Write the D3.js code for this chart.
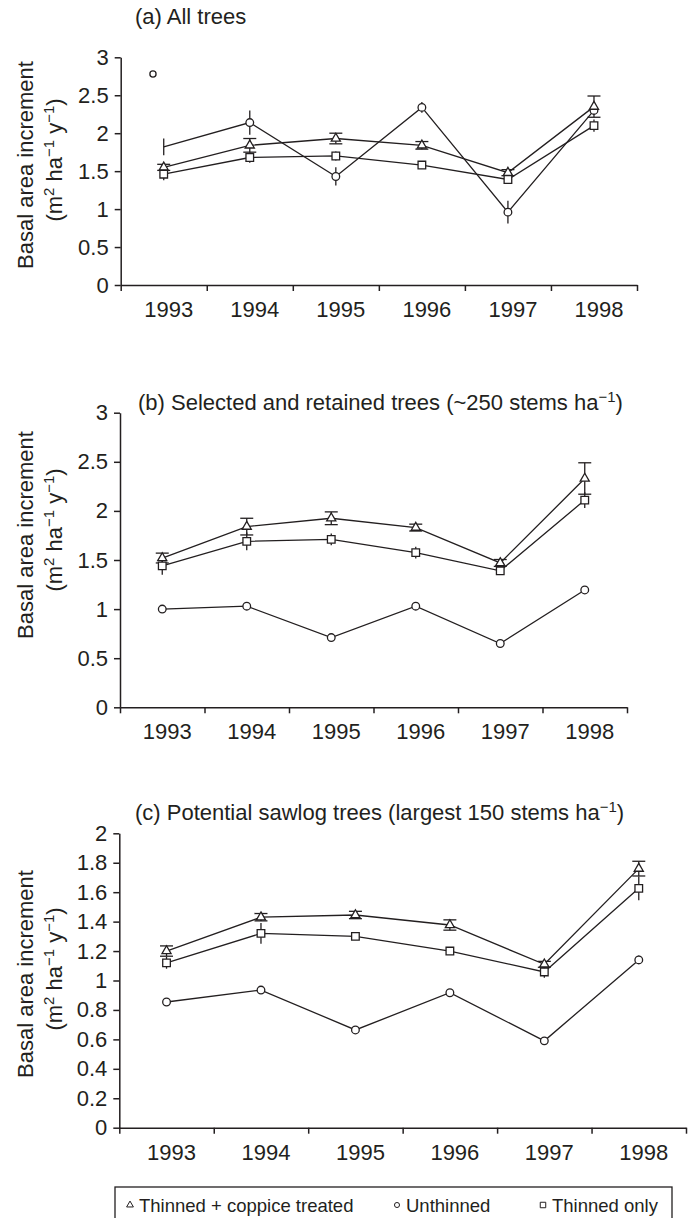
<!DOCTYPE html>
<html lang="en">
<head>
  <meta charset="UTF-8">
  <title>Basal area increment</title>
  <script src="https://d3js.org/d3.v7.min.js"></script>
  <style>
    body { margin: 0; background: #fff; }
    svg { display: block; font-family: "Liberation Sans", Arial, Helvetica, sans-serif; }
  </style>
</head>
<body>
<div id="chart"></div>
<script>
  const years = ["1993", "1994", "1995", "1996", "1997", "1998"];
  const seriesNames = ["Thinned + coppice treated", "Unthinned", "Thinned only"];

  // (a) all trees
  const coppiceA = [1.55, 1.84, 1.93, 1.84, 1.48, 2.35];
  const coppiceErrA = [0.04, 0.09, 0.07, 0.05, 0.04, 0.14];
  const unthinnedA = [1.82, 2.14, 1.43, 2.34, 0.96, 2.30];
  const unthinnedErrA = [0.11, 0.16, 0.12, 0.07, 0.15, 0.05];
  const thinnedA = [1.46, 1.68, 1.70, 1.58, 1.39, 2.10];
  const thinnedErrA = [0.08, 0.07, 0.06, 0.05, 0.04, 0.08];
  // in the original the 1993 unthinned marker floats away from its line
  const unthinnedNoMarkerA = ["1993"];
  const strayA = [{ year: "1993", value: 2.78 }];

  // (b) selected and retained trees
  const coppiceB = [1.52, 1.84, 1.925, 1.83, 1.47, 2.33];
  const coppiceErrB = [0.05, 0.085, 0.065, 0.035, 0.035, 0.16];
  const unthinnedB = [1.00, 1.03, 0.71, 1.03, 0.65, 1.195];
  const unthinnedErrB = [0.03, 0.02, 0.02, 0.02, 0.03, 0.02];
  const thinnedB = [1.44, 1.69, 1.71, 1.575, 1.39, 2.11];
  const thinnedErrB = [0.09, 0.09, 0.06, 0.06, 0.03, 0.08];

  // (c) potential sawlog trees
  const coppiceC = [1.20, 1.43, 1.445, 1.377, 1.11, 1.76];
  const coppiceErrC = [0.035, 0.025, 0.025, 0.035, 0.02, 0.05];
  const unthinnedC = [0.854, 0.935, 0.664, 0.917, 0.59, 1.14];
  const unthinnedErrC = [0.01, 0.01, 0.02, 0.02, 0.02, 0.03];
  const thinnedC = [1.12, 1.32, 1.30, 1.20, 1.058, 1.626];
  const thinnedErrC = [0.04, 0.07, 0.01, 0.02, 0.04, 0.08];

  const yTicks3 = [0, 0.5, 1, 1.5, 2, 2.5, 3];
  const yTicks2 = [0, 0.2, 0.4, 0.6, 0.8, 1, 1.2, 1.4, 1.6, 1.8, 2];

  const ink = "#231f20";

  const panels = [
    {
      title: [{ t: "(a) All trees" }],
      titleX: 135, titleY: 24,
      left: 120.7, right: 637, top: 57.3, bottom: 285,
      yMax: 3, yTicks: yTicks3, labelCenter: 165,
      series: [
        { values: unthinnedA, errs: unthinnedErrA, shape: "circle", noMarker: unthinnedNoMarkerA },
        { values: coppiceA, errs: coppiceErrA, shape: "triangle", caps: true },
        { values: thinnedA, errs: thinnedErrA, shape: "square" }
      ],
      stray: strayA
    },
    {
      title: [{ t: "(b) Selected and retained trees (~250 stems ha" }, { t: "−1", sup: true }, { t: ")" }],
      titleX: 138, titleY: 410,
      left: 120, right: 627, top: 412.7, bottom: 707.3,
      yMax: 3, yTicks: yTicks3, labelCenter: 535,
      series: [
        { values: unthinnedB, errs: unthinnedErrB, shape: "circle" },
        { values: coppiceB, errs: coppiceErrB, shape: "triangle", caps: true },
        { values: thinnedB, errs: thinnedErrB, shape: "square" }
      ]
    },
    {
      title: [{ t: "(c) Potential sawlog trees (largest 150 stems ha" }, { t: "−1", sup: true }, { t: ")" }],
      titleX: 135, titleY: 820,
      left: 119.3, right: 686, top: 833.3, bottom: 1127.7,
      yMax: 2, yTicks: yTicks2, labelCenter: 974,
      series: [
        { values: unthinnedC, errs: unthinnedErrC, shape: "circle" },
        { values: coppiceC, errs: coppiceErrC, shape: "triangle", caps: true },
        { values: thinnedC, errs: thinnedErrC, shape: "square" }
      ]
    }
  ];

  const symbolSize = { circle: 46, triangle: 36, square: 58 };
  const symbolType = { circle: d3.symbolCircle, triangle: d3.symbolTriangle, square: d3.symbolSquare };

  const svg = d3.select("#chart").append("svg")
    .attr("width", 698)
    .attr("height", 1218);

  // text with superscript parts
  function richText(sel, parts, size) {
    let raised = false;
    parts.forEach(p => {
      const ts = sel.append("tspan").text(p.t);
      if (p.sup) {
        ts.attr("font-size", size * 0.68).attr("dy", -size * 0.36);
        raised = true;
      } else if (raised) {
        ts.attr("dy", size * 0.36);
        raised = false;
      }
    });
  }

  function drawPanel(p) {
    const g = svg.append("g");
    const x = d3.scaleBand().domain(years).range([p.left, p.right]);
    const xEdge = d3.scaleLinear().domain([0, years.length]).range([p.left, p.right]);
    const y = d3.scaleLinear().domain([0, p.yMax]).range([p.bottom, p.top]);
    const cx = yr => x(yr) + x.bandwidth() / 2;

    // y axis
    g.append("g")
      .attr("transform", `translate(${p.left},0)`)
      .style("color", ink)
      .call(d3.axisLeft(y).tickValues(p.yTicks).tickFormat(d => d).tickSize(6).tickSizeOuter(0).tickPadding(6))
      .call(a => a.selectAll("text").attr("font-size", 22).attr("font-family", null))
      .call(a => a.selectAll("path,line").attr("stroke-width", 1.5));

    // x axis, ticks on the year boundaries
    g.append("g")
      .attr("transform", `translate(0,${p.bottom})`)
      .style("color", ink)
      .call(d3.axisBottom(xEdge).tickValues(d3.range(years.length + 1)).tickFormat("").tickSize(6).tickSizeOuter(0))
      .call(a => a.selectAll("path,line").attr("stroke-width", 1.5));

    g.selectAll(".year")
      .data(years)
      .join("text")
      .attr("class", "year")
      .attr("x", d => cx(d) + 5)
      .attr("y", p.bottom + 32)
      .attr("text-anchor", "middle")
      .attr("font-size", 22)
      .attr("fill", ink)
      .text(d => d);

    // title
    const title = g.append("text")
      .attr("x", p.titleX)
      .attr("y", p.titleY)
      .attr("font-size", 22)
      .attr("fill", ink);
    richText(title, p.title, 22);

    // y label, two lines
    g.append("text")
      .attr("transform", `translate(33,${p.labelCenter}) rotate(-90)`)
      .attr("text-anchor", "middle")
      .attr("font-size", 22)
      .attr("fill", ink)
      .text("Basal area increment");
    const unit = g.append("text")
      .attr("transform", `translate(62,${p.labelCenter - 5}) rotate(-90)`)
      .attr("text-anchor", "middle")
      .attr("font-size", 22)
      .attr("fill", ink);
    richText(unit, [
      { t: "(m" }, { t: "2", sup: true }, { t: " ha" }, { t: "−1", sup: true },
      { t: " y" }, { t: "−1", sup: true }, { t: ")" }
    ], 22);

    const seriesPts = p.series.map(s => ({
      s,
      pts: years.map((yr, i) => ({ yr, v: s.values[i], e: s.errs[i] }))
    }));

    const line = d3.line().x(d => cx(d.yr)).y(d => y(d.v));

    // lines
    seriesPts.forEach(({ pts }) => {
      g.append("path")
        .datum(pts)
        .attr("fill", "none")
        .attr("stroke", ink)
        .attr("stroke-width", 1.3)
        .attr("d", line);
    });

    // error bars
    seriesPts.forEach(({ s, pts }) => {
      const eb = g.append("g").attr("stroke", ink).attr("stroke-width", 1.3);
      eb.selectAll("line.bar")
        .data(pts)
        .join("line")
        .attr("class", "bar")
        .attr("x1", d => cx(d.yr)).attr("x2", d => cx(d.yr))
        .attr("y1", d => y(d.v - d.e)).attr("y2", d => y(d.v + d.e));
      if (s.caps) {
        const capEnds = pts.flatMap(d => [{ yr: d.yr, v: d.v + d.e }, { yr: d.yr, v: d.v - d.e }]);
        eb.selectAll("line.cap")
          .data(capEnds)
          .join("line")
          .attr("class", "cap")
          .attr("x1", d => cx(d.yr) - 6.5).attr("x2", d => cx(d.yr) + 6.5)
          .attr("y1", d => y(d.v)).attr("y2", d => y(d.v));
      }
    });

    // markers
    seriesPts.forEach(({ s, pts }) => {
      const skip = s.noMarker || [];
      g.append("g")
        .selectAll("path")
        .data(pts.filter(d => !skip.includes(d.yr)))
        .join("path")
        .attr("transform", d => `translate(${cx(d.yr)},${y(d.v)})`)
        .attr("d", d3.symbol(symbolType[s.shape], symbolSize[s.shape]))
        .attr("fill", "#fff")
        .attr("stroke", ink)
        .attr("stroke-width", 1.3);
    });

    if (p.stray) {
      g.selectAll(".stray")
        .data(p.stray)
        .join("path")
        .attr("class", "stray")
        .attr("transform", d => `translate(${cx(d.year) - x.bandwidth() * 0.125},${y(d.value)})`)
        .attr("d", d3.symbol(d3.symbolCircle, 30))
        .attr("fill", "#fff")
        .attr("stroke", ink)
        .attr("stroke-width", 1.3);
    }
  }

  panels.forEach(drawPanel);

  // legend
  const legendShapes = ["triangle", "circle", "square"];
  const legendOrder = [0, 1, 2];
  const legendX = [130, 397, 543];
  const legend = svg.append("g");
  legend.append("rect")
    .attr("x", 115).attr("y", 1187)
    .attr("width", 557).attr("height", 34)
    .attr("fill", "none")
    .attr("stroke", ink)
    .attr("stroke-width", 1.3);
  const items = legend.selectAll(".item")
    .data(legendOrder)
    .join("g")
    .attr("class", "item")
    .attr("transform", (d, i) => `translate(${legendX[i]},1205)`);
  items.append("path")
    .attr("d", (d, i) => d3.symbol(symbolType[legendShapes[i]], legendShapes[i] === "square" ? 30 : 20)())
    .attr("fill", "#fff")
    .attr("stroke", ink)
    .attr("stroke-width", 1);
  items.append("text")
    .attr("x", 9)
    .attr("y", 7)
    .attr("font-size", 18.5)
    .attr("fill", ink)
    .text(d => seriesNames[d]);
</script>
</body>
</html>
